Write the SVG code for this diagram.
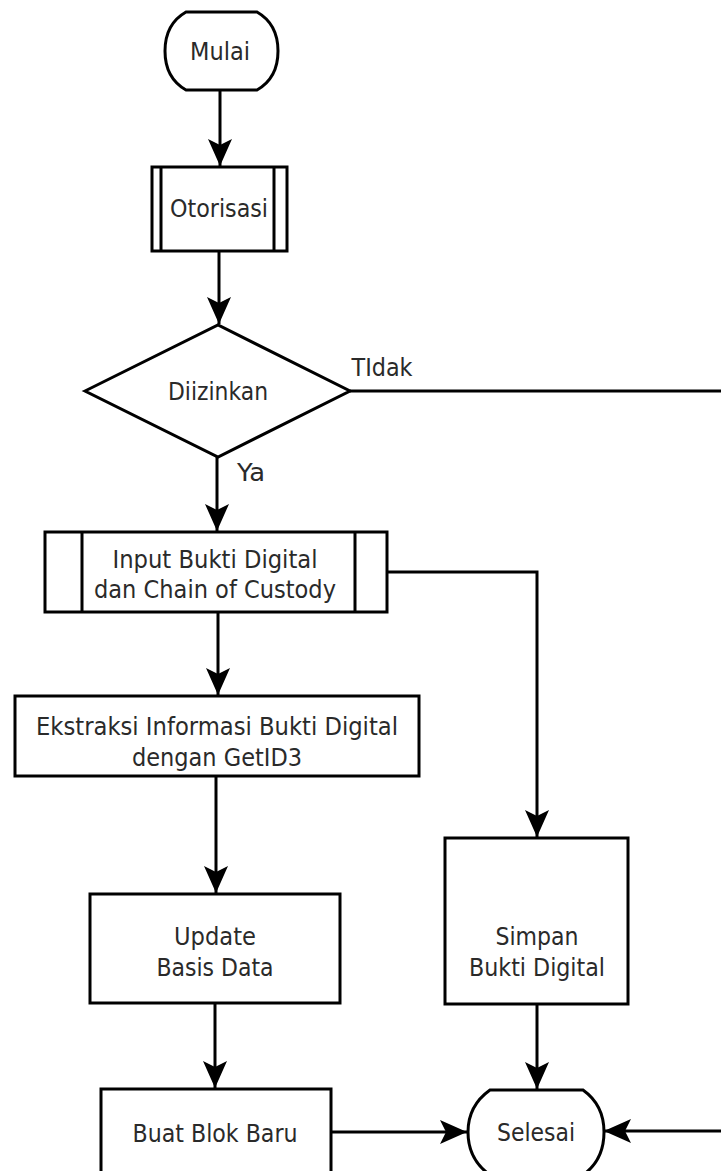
<svg xmlns="http://www.w3.org/2000/svg" width="721" height="1171" viewBox="0 0 721 1171">
  <defs>
    <marker id="arrow" markerUnits="userSpaceOnUse" markerWidth="30" markerHeight="30" refX="0" refY="0" viewBox="-28 -15 30 30" orient="auto" overflow="visible">
      <path d="M0,0 L-27,-12 L-21,0 L-27,12 Z" fill="#000"/>
    </marker>
  </defs>
  <style>
    .shape { fill: #fff; stroke: #000; stroke-width: 3; }
    .line { fill: none; stroke: #000; stroke-width: 3; }
    .flow { fill: none; stroke: #000; stroke-width: 3; marker-end: url(#arrow); }
    text { font-family: "DejaVu Sans", Verdana, sans-serif; font-size: 24px; fill: #2a2a2a; text-anchor: middle; }
  </style>
  <rect width="721" height="1171" fill="#fff"/>

  <!-- connectors -->
  <g id="connectors">
    <path class="flow" d="M220,90 L220,166"/>
    <path class="flow" d="M219,251 L219,324"/>
    <path class="flow" d="M217,457 L217,531"/>
    <path class="line" d="M350,391 L721,391"/>
    <path class="flow" d="M387,572 L537,572 L537,837"/>
    <path class="flow" d="M218,612 L218,695"/>
    <path class="flow" d="M216,776 L216,893"/>
    <path class="flow" d="M215,1003 L215,1088"/>
    <path class="flow" d="M537,1004 L537,1089"/>
    <path class="flow" d="M331,1132 L467,1132"/>
    <path class="flow" d="M721,1131 L604,1131"/>
    <text x="382" y="376" textLength="61" lengthAdjust="spacingAndGlyphs">TIdak</text>
    <text x="251" y="481" textLength="28" lengthAdjust="spacingAndGlyphs">Ya</text>
  </g>

  <g id="mulai">
    <path class="shape" d="M186,12 L257,12 C271,20 278,34 278,51 C278,68 271,82 257,90 L186,90 C172,82 165,68 165,51 C165,34 172,20 186,12 Z"/>
    <text x="220" y="60" textLength="60" lengthAdjust="spacingAndGlyphs">Mulai</text>
  </g>

  <g id="otorisasi">
    <rect class="shape" x="152" y="167" width="135" height="84"/>
    <path class="line" d="M161,167 L161,251 M274,167 L274,251"/>
    <text x="219" y="217" textLength="98" lengthAdjust="spacingAndGlyphs">Otorisasi</text>
  </g>

  <g id="diizinkan">
    <path class="shape" d="M85,391 L218,325 L350,391 L218,457 Z"/>
    <text x="218" y="400" textLength="100" lengthAdjust="spacingAndGlyphs">Diizinkan</text>
  </g>

  <g id="input">
    <rect class="shape" x="45" y="532" width="342" height="80"/>
    <path class="line" d="M82,532 L82,612 M355,532 L355,612"/>
    <text x="215" y="568" textLength="205" lengthAdjust="spacingAndGlyphs">Input Bukti Digital</text>
    <text x="215" y="598" textLength="242" lengthAdjust="spacingAndGlyphs">dan Chain of Custody</text>
  </g>

  <g id="ekstraksi">
    <rect class="shape" x="15" y="696" width="404" height="80"/>
    <text x="217" y="735" textLength="362" lengthAdjust="spacingAndGlyphs">Ekstraksi Informasi Bukti Digital</text>
    <text x="217" y="766" textLength="170" lengthAdjust="spacingAndGlyphs">dengan GetID3</text>
  </g>

  <g id="update">
    <rect class="shape" x="90" y="894" width="250" height="109"/>
    <text x="215" y="945" textLength="82" lengthAdjust="spacingAndGlyphs">Update</text>
    <text x="215" y="976" textLength="117" lengthAdjust="spacingAndGlyphs">Basis Data</text>
  </g>

  <g id="simpan">
    <rect class="shape" x="445" y="838" width="183" height="166"/>
    <text x="537" y="945" textLength="83" lengthAdjust="spacingAndGlyphs">Simpan</text>
    <text x="537" y="976" textLength="136" lengthAdjust="spacingAndGlyphs">Bukti Digital</text>
  </g>

  <g id="buat-blok">
    <rect class="shape" x="101" y="1089" width="230" height="90"/>
    <text x="215" y="1142" textLength="165" lengthAdjust="spacingAndGlyphs">Buat Blok Baru</text>
  </g>

  <g id="selesai">
    <path class="shape" d="M490,1090 L583,1090 C597,1100 604,1115 604,1132 C604,1150 597,1165 583,1175 L490,1175 C476,1165 468,1150 468,1132 C468,1115 476,1100 490,1090 Z"/>
    <text x="536" y="1141" textLength="78" lengthAdjust="spacingAndGlyphs">Selesai</text>
  </g>
</svg>
